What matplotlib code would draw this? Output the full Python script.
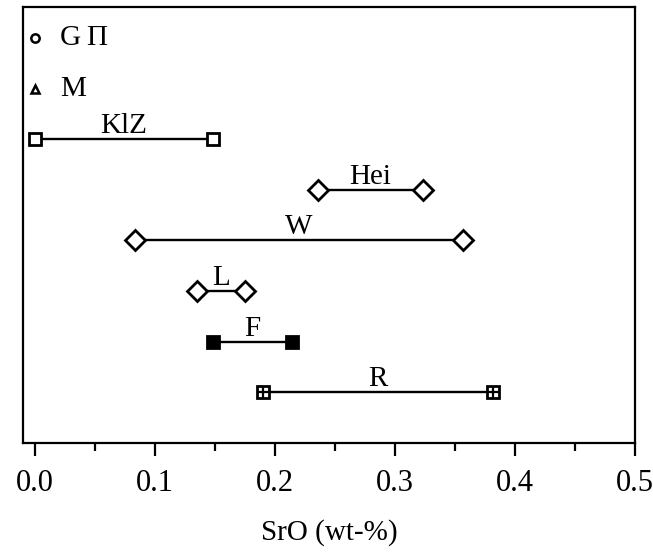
import matplotlib
matplotlib.use("Agg")
import matplotlib.pyplot as plt

plt.rcParams['font.family'] = ['Liberation Serif', 'DejaVu Serif']

# legend-like symbols inside plot
legend_labels = ["G\u2009\u03a0", "M"]
legend_markers = ["o", "^"]

# range data
names = ["KlZ", "Hei", "W", "L", "F", "R"]
lows = [0.0, 0.236, 0.083, 0.135, 0.148, 0.19]
highs = [0.148, 0.323, 0.357, 0.175, 0.214, 0.382]
markers = ["s", "D", "D", "D", "s", "s"]
filled = [False, False, False, False, True, False]
crossed = [False, False, False, False, False, True]

xticks = [0.0, 0.1, 0.2, 0.3, 0.4, 0.5]
xlabel = "SrO (wt-%)"

fig = plt.figure(figsize=(6.53, 5.56), dpi=100)
ax = fig.add_axes([0.0352, 0.2032, 0.9372, 0.7842])

n_rows = len(legend_labels) + len(names)
ys = list(range(n_rows, 0, -1))

for i, (lab, mk) in enumerate(zip(legend_labels, legend_markers)):
    y = ys[i]
    ax.plot([0.0], [y], marker=mk, ms=6, mfc='white', mec='black', mew=1.8, ls='none', clip_on=False)
    ax.text(0.021, y, lab, fontsize=21, va='center', ha='left')

for j, name in enumerate(names):
    y = ys[len(legend_labels) + j]
    lo, hi = lows[j], highs[j]
    ax.plot([lo, hi], [y, y], color='black', lw=1.7, zorder=2)
    ms = 10 if markers[j] == 'D' else 8.5
    face = 'black' if filled[j] else 'white'
    ax.plot([lo, hi], [y, y], marker=markers[j], ms=ms, mfc=face, mec='black',
            mew=2.0, ls='none', zorder=3, clip_on=False)
    if crossed[j]:
        ax.plot([lo, hi], [y, y], marker='+', ms=8.5, mec='black', mew=1.6,
                ls='none', zorder=4, clip_on=False)
    ax.annotate(name, xy=((lo + hi) / 2, y), xytext=(0, 0), textcoords='offset points',
                ha='center', va='bottom', fontsize=21)

ax.set_xlim(-0.01, 0.5)
ax.set_ylim(0.0, n_rows + 0.61)
ax.set_xticks(xticks)
ax.set_xticklabels([f"{t:.1f}" for t in xticks], fontsize=22)
ax.set_xticks([0.05, 0.15, 0.25, 0.35, 0.45], minor=True)
ax.tick_params(axis='x', which='major', direction='out', length=9, width=1.6, pad=10)
ax.tick_params(axis='x', which='minor', direction='out', length=6, width=1.6)
ax.set_yticks([])
for s in ax.spines.values():
    s.set_linewidth(1.6)
ax.set_xlabel(xlabel, fontsize=21, labelpad=15)

fig.savefig("out.png", dpi=100)
